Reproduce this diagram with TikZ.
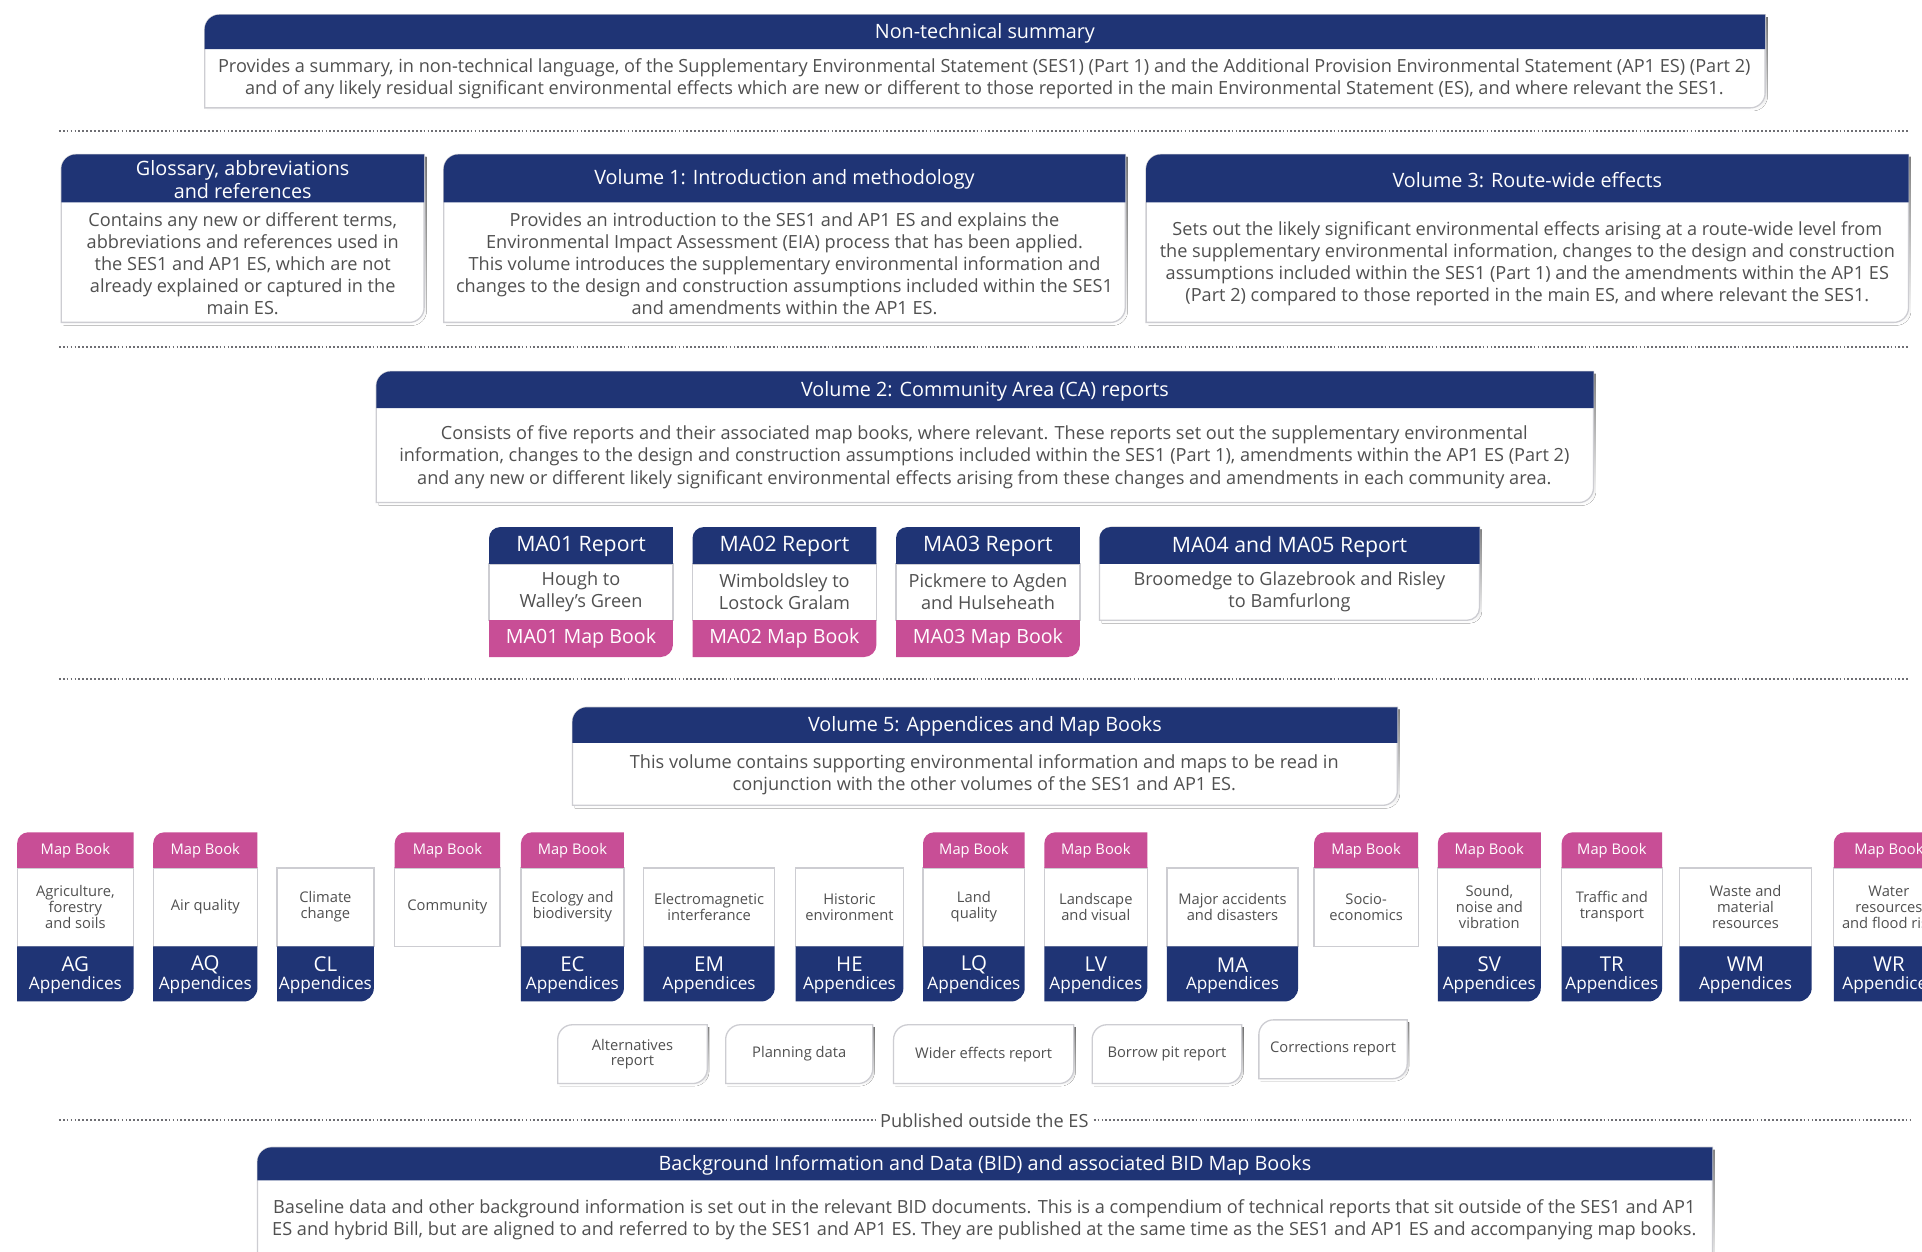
\documentclass[tikz,border=0pt]{standalone}
\usepackage{fontspec}
\setmainfont{Open Sans}
\definecolor{navy}{RGB}{31,52,117}
\definecolor{mbpink}{RGB}{200,78,150}
\definecolor{txt}{RGB}{80,80,80}
\definecolor{bord}{RGB}{205,205,210}
\definecolor{shade}{RGB}{234,234,238}
\definecolor{dotc}{RGB}{110,110,115}
\tikzset{
 hdr/.style={text=white,align=center,inner sep=0pt,font=\fontsize{12.1}{14}\selectfont},
 bodytxt/.style={text=txt,align=center,inner sep=0pt,font=\fontsize{11.1}{13.5}\selectfont},
 smalltxt/.style={text=txt,align=center,inner sep=0pt,font=\fontsize{9}{9.75}\selectfont},
 mbtxt/.style={text=white,inner sep=0pt,font=\fontsize{9}{10}\selectfont},
 codetxt/.style={text=white,inner sep=0pt,font=\fontsize{12.5}{14}\selectfont},
 apptxt/.style={text=white,inner sep=0pt,font=\fontsize{10.5}{12}\selectfont},
 matxt/.style={text=white,inner sep=0pt,font=\fontsize{13}{14}\selectfont},
 mbbig/.style={text=white,inner sep=0pt,font=\fontsize{12}{14}\selectfont},
 dotline/.style={draw=dotc,line width=1.3pt,dash pattern=on 1.1pt off 1.3pt},
 boxline/.style={fill=white,draw=bord,line width=0.8pt},
}
% paths: x1 y1 x2 y2 r  (y grows downward)
\newcommand\TLBR[5]{({#1},{#4}) -- ({#1},{#2+#5}) .. controls ({#1},{#2+0.45*#5}) and ({#1+0.45*#5},{#2}) .. ({#1+#5},{#2}) -- ({#3},{#2}) -- ({#3},{#4-#5}) .. controls ({#3},{#4-0.45*#5}) and ({#3-0.45*#5},{#4}) .. ({#3-#5},{#4}) -- cycle}
\newcommand\TLonly[5]{({#1},{#4}) -- ({#1},{#2+#5}) .. controls ({#1},{#2+0.45*#5}) and ({#1+0.45*#5},{#2}) .. ({#1+#5},{#2}) -- ({#3},{#2}) -- ({#3},{#4}) -- cycle}
\newcommand\BRonly[5]{({#1},{#2}) -- ({#3},{#2}) -- ({#3},{#4-#5}) .. controls ({#3},{#4-0.45*#5}) and ({#3-0.45*#5},{#4}) .. ({#3-#5},{#4}) -- ({#1},{#4}) -- cycle}
% panel: name x1 y1 x2 yh y2 header
\newcommand\panel[7]{%
 \fill[shade] \TLBR{#2+2}{#3+2}{#4+2}{#6+2.5}{12};
 \filldraw[boxline] \TLBR{#2}{#3}{#4}{#6}{12};
 \fill[navy] \TLonly{#2}{#3}{#4}{#5}{12};
 \node[hdr] (#1-h) at ({(#2+#4)/2},{(#3+#5)/2+1}) {#7};
}
% card: name x1 x2 map navy desc code
\newcommand\card[7]{%
 \filldraw[boxline] (#2,708) rectangle (#3,772);
 \ifnum#4=1
  \fill[mbpink] \TLonly{#2}{679}{#3}{708}{9};
  \node[mbtxt] (#1-m) at ({(#2+#3)/2},694) {Map Book};
 \fi
 \ifnum#5=1
  \fill[navy] \BRonly{#2}{772}{#3}{817}{11};
  \node[codetxt] (#1-c) at ({(#2+#3)/2},787) {#7};
  \node[apptxt] (#1-a) at ({(#2+#3)/2},804) {Appendices};
 \fi
 \node[smalltxt] (#1-d) at ({(#2+#3)/2},740) {#6};
}
% MA report: name x1 x2 title body pinktext
\newcommand\mareport[6]{%
 \filldraw[boxline] (#2,460) rectangle (#3,506);
 \fill[navy] \TLonly{#2}{430}{#3}{460}{9};
 \fill[mbpink] \BRonly{#2}{506}{#3}{536}{10};
 \node[matxt] (#1-h) at ({(#2+#3)/2},446) {#4};
 \node[bodytxt] (#1-b) at ({(#2+#3)/2},483) {#5};
 \node[mbbig] (#1-p) at ({(#2+#3)/2},521) {#6};
}
\newcommand\report[5]{% name x1 x2 y1 text
 \fill[shade] \TLBR{#2+1.5}{#4+2}{#3+1.5}{#4+50}{12};
 \filldraw[boxline] \TLBR{#2}{#4}{#3}{#4+48}{12};
 \node[smalltxt] (#1) at ({(#2+#3)/2},{#4+24}) {#5};
}
\begin{document}
\begin{tikzpicture}[x=0.75pt,y=-0.75pt]
\useasboundingbox[fill=white] (0,0) rectangle (1568,1021);

% Non-technical summary
\panel{nts}{167}{12}{1440}{40}{88}{Non-technical summary}
\node[bodytxt] (nts-b) at (803,64) {Provides a summary, in non-technical language, of the Supplementary Environmental Statement (SES1) (Part 1) and the Additional Provision Environmental Statement (AP1 ES) (Part 2)\\and of any likely residual significant environmental effects which are new or different to those reported in the main Environmental Statement (ES), and where relevant the SES1.};

\draw[dotline] (48,107) -- (1558,107);

% Glossary, Volume 1, Volume 3
\panel{glo}{50}{126}{346}{165}{263}{Glossary, abbreviations\\and references}
\node[bodytxt] (glo-b) at (198,215) {Contains any new or different terms,\\abbreviations and references used in\\the SES1 and AP1 ES, which are not\\already explained or captured in the\\main ES.};
\panel{v1}{362}{126}{918}{165}{263}{Volume 1: Introduction and methodology}
\node[bodytxt] (v1-b) at (640,215) {Provides an introduction to the SES1 and AP1 ES and explains the\\Environmental Impact Assessment (EIA) process that has been applied.\\This volume introduces the supplementary environmental information and\\changes to the design and construction assumptions included within the SES1\\and amendments within the AP1 ES.};
\panel{v3}{935}{126}{1557}{165}{263}{Volume 3: Route-wide effects}
\node[bodytxt] (v3-b) at (1246,215) {Sets out the likely significant environmental effects arising at a route-wide level from\\the supplementary environmental information, changes to the design and construction\\assumptions included within the SES1 (Part 1) and the amendments within the AP1 ES\\(Part 2) compared to those reported in the main ES, and where relevant the SES1.};

\draw[dotline] (48,283) -- (1558,283);

% Volume 2
\panel{v2}{307}{303}{1300}{333}{410}{Volume 2: Community Area (CA) reports}
\node[bodytxt] (v2-b) at (803,373) {Consists of five reports and their associated map books, where relevant. These reports set out the supplementary environmental\\information, changes to the design and construction assumptions included within the SES1 (Part 1), amendments within the AP1 ES (Part 2)\\and any new or different likely significant environmental effects arising from these changes and amendments in each community area.};

\mareport{ma1}{399}{549}{MA01 Report}{Hough to\\Walley's Green}{MA01 Map Book}
\mareport{ma2}{565}{715}{MA02 Report}{Wimboldsley to\\Lostock Gralam}{MA02 Map Book}
\mareport{ma3}{731}{881}{MA03 Report}{Pickmere to Agden\\and Hulseheath}{MA03 Map Book}
\fill[shade] \TLBR{899}{432}{1209}{508.5}{10};
\filldraw[boxline] \TLBR{897}{430}{1207}{506}{10};
\fill[navy] \TLonly{897}{430}{1207}{460}{9};
\node[matxt] (ma4-h) at (1052,446) {MA04 and MA05 Report};
\node[bodytxt] (ma4-b) at (1052,483) {Broomedge to Glazebrook and Risley\\to Bamfurlong};

\draw[dotline] (48,554) -- (1558,554);

% Volume 5
\panel{v5}{467}{577}{1140}{606}{657}{Volume 5: Appendices and Map Books}
\node[bodytxt] (v5-b) at (803,632) {This volume contains supporting environmental information and maps to be read in\\conjunction with the other volumes of the SES1 and AP1 ES.};

\card{ag}{14}{109}{1}{1}{Agriculture,\\forestry\\and soils}{AG}
\card{aq}{125}{210}{1}{1}{Air quality}{AQ}
\card{cl}{226}{305}{0}{1}{Climate\\change}{CL}
\card{co}{322}{408}{1}{0}{Community}{}
\card{ec}{425}{509}{1}{1}{Ecology and\\biodiversity}{EC}
\card{em}{525}{632}{0}{1}{Electromagnetic\\interferance}{EM}
\card{he}{649}{737}{0}{1}{Historic\\environment}{HE}
\card{lq}{753}{836}{1}{1}{Land\\quality}{LQ}
\card{lv}{852}{936}{1}{1}{Landscape\\and visual}{LV}
\card{ma}{952}{1059}{0}{1}{Major accidents\\and disasters}{MA}
\card{se}{1072}{1157}{1}{0}{Socio-\\economics}{}
\card{sv}{1173}{1257}{1}{1}{Sound,\\noise and\\vibration}{SV}
\card{tr}{1274}{1356}{1}{1}{Traffic and\\transport}{TR}
\card{wm}{1370}{1478}{0}{1}{Waste and\\material\\resources}{WM}
\card{wr}{1496}{1586}{1}{1}{Water\\resources\\and flood risk}{WR}

\report{alt}{455}{577}{836}{Alternatives\\report}
\report{pla}{592}{712}{836}{Planning data}
\report{wid}{729}{876}{836}{Wider effects report}
\report{bor}{891}{1013}{836}{Borrow pit report}
\report{cor}{1027}{1148}{832}{Corrections report}

\node[bodytxt] (pub) at (803,914) {Published outside the ES};
\draw[dotline] (48,914) -- ([xshift=-3pt]pub.west);
\draw[dotline] ([xshift=3pt]pub.east) -- (1558,914);

% BID
\panel{bid}{210}{936}{1397}{963}{1040}{Background Information and Data (BID) and associated BID Map Books}
\node[bodytxt] (bid-b) at (803,995) {Baseline data and other background information is set out in the relevant BID documents. This is a compendium of technical reports that sit outside of the SES1 and AP1\\ES and hybrid Bill, but are aligned to and referred to by the SES1 and AP1 ES. They are published at the same time as the SES1 and AP1 ES and accompanying map books.};
\end{tikzpicture}
\end{document}
